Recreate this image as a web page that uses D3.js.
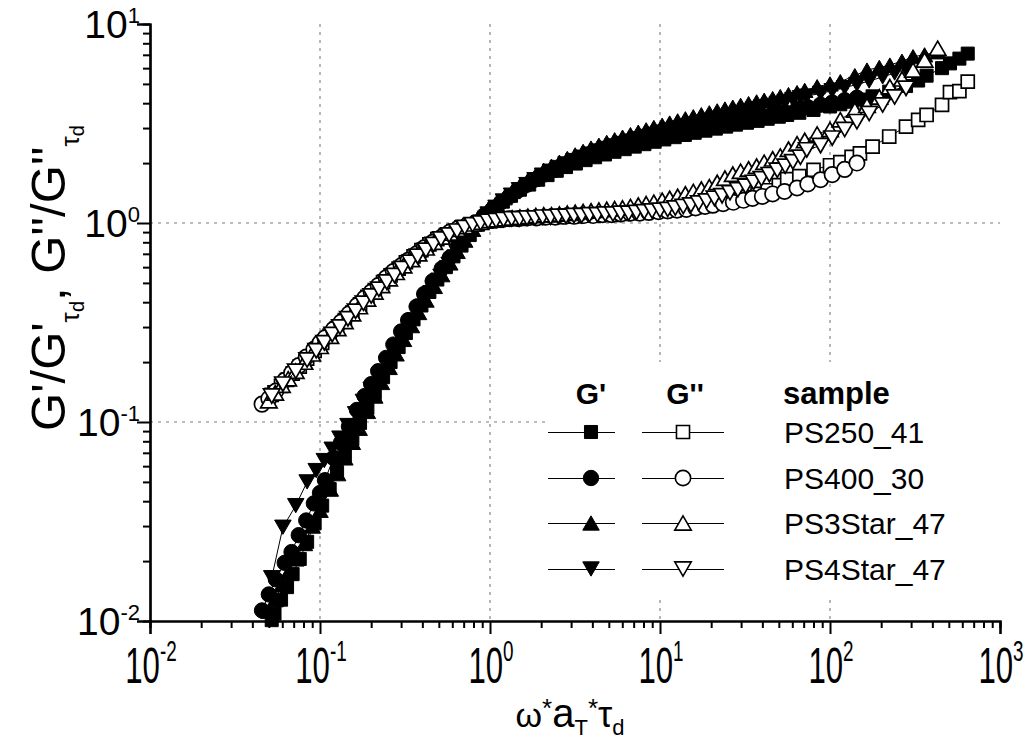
<!DOCTYPE html>
<html>
<head>
<meta charset="utf-8">
<script src="https://cdn.jsdelivr.net/npm/d3@7"></script>
<style>
  body { margin: 0; background: #fff; }
  svg { display: block; }
  text { font-family: "Liberation Sans", Arial, Helvetica, sans-serif; fill: #000; }
</style>
</head>
<body>
<svg id="chart" width="1028" height="740"></svg>
<script>
// ---- axis ticks ----
const xTickExponents = [-2, -1, 0, 1, 2, 3];
const yTickExponents = [-2, -1, 0, 1];

// ---- samples ----
const sampleNames = ["PS250_41", "PS400_30", "PS3Star_47", "PS4Star_47"];
const sampleShapes = ["square", "circle", "triangleUp", "triangleDown"];

// PS250_41
const omegaPS250 = [0.052, 0.054, 0.059, 0.064, 0.069, 0.076, 0.084, 0.093, 0.103, 0.114, 0.126, 0.14, 0.155, 0.172, 0.19, 0.21, 0.235, 0.26, 0.29, 0.32, 0.355, 0.395, 0.44, 0.49, 0.55, 0.61, 0.68, 0.76, 0.85, 0.95, 1.06, 1.19, 1.33, 1.5, 1.7, 1.92, 2.18, 2.47, 2.8, 3.2, 3.65, 4.15, 4.75, 5.4, 6.2, 7.1, 8.1, 9.3, 10.6, 12.2, 14, 16, 18.5, 21.3, 24.5, 28, 32.5, 37.5, 43, 50, 56, 66, 80, 100, 115, 134, 150, 178, 223, 280, 330, 370, 456, 508, 577, 646];
const gpPS250 = [0.0101, 0.0109, 0.0128, 0.0148, 0.0172, 0.0205, 0.025, 0.031, 0.038, 0.046, 0.056, 0.068, 0.082, 0.099, 0.118, 0.14, 0.168, 0.2, 0.238, 0.28, 0.328, 0.385, 0.45, 0.52, 0.6, 0.68, 0.77, 0.87, 0.98, 1.08, 1.18, 1.28, 1.37, 1.47, 1.56, 1.65, 1.74, 1.83, 1.91, 1.99, 2.07, 2.14, 2.21, 2.28, 2.35, 2.42, 2.49, 2.56, 2.63, 2.7, 2.77, 2.84, 2.91, 2.98, 3.05, 3.12, 3.19, 3.26, 3.34, 3.42, 3.49, 3.58, 3.7, 3.85, 3.95, 4.07, 4.17, 4.33, 4.57, 4.88, 5.2, 5.5, 6.0, 6.34, 6.7, 7.1];
const gppPS250 = [0.137, 0.141, 0.152, 0.163, 0.175, 0.19, 0.208, 0.228, 0.25, 0.272, 0.296, 0.325, 0.355, 0.39, 0.425, 0.46, 0.505, 0.545, 0.59, 0.635, 0.68, 0.73, 0.78, 0.83, 0.87, 0.91, 0.95, 0.98, 1.0, 1.02, 1.03, 1.04, 1.05, 1.05, 1.06, 1.06, 1.07, 1.07, 1.08, 1.08, 1.09, 1.09, 1.1, 1.1, 1.11, 1.12, 1.13, 1.14, 1.15, 1.16, 1.18, 1.2, 1.22, 1.25, 1.28, 1.31, 1.35, 1.4, 1.46, 1.55, 1.66, 1.72, 1.85, 1.95, 2.02, 2.15, 2.24, 2.42, 2.72, 3.05, 3.3, 3.49, 3.92, 4.55, 4.6, 5.13];

// PS400_30
const omegaPS400 = [0.0456, 0.05, 0.055, 0.062, 0.068, 0.075, 0.083, 0.092, 0.1, 0.107, 0.12, 0.133, 0.148, 0.165, 0.183, 0.2, 0.22, 0.245, 0.27, 0.3, 0.33, 0.37, 0.41, 0.46, 0.52, 0.58, 0.65, 0.73, 0.82, 0.92, 1.03, 1.16, 1.3, 1.47, 1.66, 1.88, 2.13, 2.42, 2.75, 3.13, 3.56, 4.05, 4.6, 5.2, 5.9, 6.7, 7.6, 8.6, 9.8, 11.1, 12.6, 14.3, 16.2, 18.4, 20.5, 23.5, 27, 31, 35, 40, 46, 54, 64, 74, 88, 103, 122, 144];
const gpPS400 = [0.0113, 0.0136, 0.0162, 0.0196, 0.0222, 0.027, 0.032, 0.039, 0.044, 0.051, 0.066, 0.079, 0.095, 0.115, 0.135, 0.155, 0.18, 0.21, 0.245, 0.285, 0.325, 0.38, 0.44, 0.51, 0.59, 0.67, 0.77, 0.88, 0.99, 1.09, 1.17, 1.27, 1.36, 1.46, 1.56, 1.66, 1.76, 1.85, 1.94, 2.03, 2.11, 2.19, 2.27, 2.34, 2.41, 2.48, 2.55, 2.61, 2.67, 2.73, 2.8, 2.87, 2.94, 3.0, 3.06, 3.14, 3.22, 3.3, 3.38, 3.46, 3.54, 3.63, 3.73, 3.82, 3.93, 4.03, 4.14, 4.26];
const gppPS400 = [0.123, 0.131, 0.143, 0.162, 0.176, 0.192, 0.212, 0.232, 0.25, 0.265, 0.292, 0.318, 0.35, 0.385, 0.42, 0.45, 0.485, 0.53, 0.57, 0.61, 0.65, 0.7, 0.75, 0.8, 0.85, 0.9, 0.94, 0.97, 1.0, 1.02, 1.03, 1.04, 1.05, 1.05, 1.06, 1.06, 1.07, 1.07, 1.08, 1.08, 1.09, 1.09, 1.1, 1.1, 1.11, 1.12, 1.12, 1.13, 1.14, 1.15, 1.16, 1.17, 1.19, 1.21, 1.23, 1.25, 1.27, 1.3, 1.33, 1.36, 1.4, 1.44, 1.5, 1.57, 1.65, 1.75, 1.86, 2.0];

// PS3Star_47
const omegaPS3Star = [0.05, 0.0545, 0.0597, 0.065, 0.072, 0.081, 0.09, 0.1, 0.115, 0.127, 0.14, 0.155, 0.17, 0.19, 0.21, 0.23, 0.255, 0.28, 0.31, 0.345, 0.38, 0.42, 0.47, 0.52, 0.58, 0.64, 0.71, 0.79, 0.88, 0.98, 1.09, 1.21, 1.35, 1.5, 1.67, 1.86, 2.07, 2.3, 2.56, 2.85, 3.17, 3.53, 3.93, 4.37, 4.86, 5.41, 6.02, 6.7, 7.45, 8.29, 9.2, 10.3, 11.4, 12.7, 14.1, 15.7, 17.5, 19.5, 21.7, 24.1, 26.8, 29.8, 33.2, 37, 41, 46, 51, 57, 64, 71, 84, 100, 115, 140, 165, 195, 225, 265, 308, 360, 430];
const gpPS3Star = [0.0112, 0.0128, 0.0152, 0.0175, 0.0205, 0.0245, 0.03, 0.036, 0.046, 0.055, 0.066, 0.079, 0.093, 0.113, 0.135, 0.158, 0.188, 0.22, 0.26, 0.305, 0.355, 0.41, 0.48, 0.55, 0.63, 0.72, 0.82, 0.93, 1.04, 1.14, 1.24, 1.34, 1.44, 1.54, 1.64, 1.74, 1.84, 1.93, 2.02, 2.11, 2.2, 2.29, 2.38, 2.46, 2.54, 2.62, 2.7, 2.78, 2.86, 2.94, 3.02, 3.1, 3.18, 3.26, 3.34, 3.42, 3.5, 3.58, 3.66, 3.74, 3.82, 3.9, 3.98, 4.06, 4.14, 4.22, 4.32, 4.42, 4.52, 4.64, 4.84, 5.0, 5.13, 5.5, 5.87, 6.05, 6.22, 6.5, 6.85, 7.0, 7.25];
const gppPS3Star = [0.128, 0.14, 0.153, 0.165, 0.18, 0.2, 0.22, 0.24, 0.27, 0.295, 0.32, 0.35, 0.38, 0.415, 0.45, 0.485, 0.525, 0.565, 0.61, 0.655, 0.7, 0.75, 0.8, 0.85, 0.89, 0.93, 0.96, 0.99, 1.01, 1.03, 1.04, 1.05, 1.06, 1.07, 1.08, 1.09, 1.1, 1.1, 1.11, 1.12, 1.13, 1.14, 1.15, 1.16, 1.17, 1.18, 1.19, 1.21, 1.23, 1.25, 1.27, 1.3, 1.33, 1.36, 1.4, 1.44, 1.48, 1.52, 1.6, 1.68, 1.76, 1.82, 1.87, 1.93, 2.02, 2.1, 2.17, 2.35, 2.5, 2.6, 2.8, 2.95, 3.3, 3.7, 3.9, 4.3, 4.84, 5.3, 5.87, 6.6, 7.55];

// PS4Star_47
const omegaPS4Star = [0.052, 0.0605, 0.072, 0.084, 0.095, 0.106, 0.118, 0.131, 0.146, 0.162, 0.18, 0.2, 0.222, 0.247, 0.274, 0.305, 0.34, 0.375, 0.42, 0.465, 0.515, 0.575, 0.64, 0.71, 0.79, 0.88, 0.975, 1.085, 1.2, 1.34, 1.49, 1.65, 1.84, 2.04, 2.27, 2.52, 2.8, 3.12, 3.46, 3.85, 4.28, 4.76, 5.29, 5.88, 6.54, 7.27, 8.08, 8.98, 10, 11.1, 12.3, 13.7, 15.2, 16.9, 18.8, 20.9, 23.2, 25.8, 28.7, 31.9, 35.5, 39.5, 44, 49, 54.5, 60.5, 67, 73, 88, 103, 122, 144, 170, 204, 240, 280];
const gpPS4Star = [0.0165, 0.0296, 0.038, 0.05, 0.057, 0.064, 0.073, 0.083, 0.096, 0.11, 0.127, 0.146, 0.17, 0.197, 0.228, 0.265, 0.31, 0.355, 0.415, 0.475, 0.54, 0.62, 0.71, 0.81, 0.91, 1.01, 1.11, 1.2, 1.29, 1.38, 1.47, 1.56, 1.65, 1.74, 1.82, 1.9, 1.98, 2.06, 2.14, 2.22, 2.3, 2.37, 2.44, 2.51, 2.58, 2.65, 2.72, 2.79, 2.86, 2.93, 3.0, 3.07, 3.14, 3.21, 3.28, 3.35, 3.42, 3.5, 3.58, 3.66, 3.74, 3.82, 3.9, 3.99, 4.08, 4.17, 4.26, 4.34, 4.48, 4.62, 4.79, 4.97, 5.17, 5.42, 5.67, 5.92];
const gppPS4Star = [0.135, 0.155, 0.18, 0.205, 0.228, 0.25, 0.275, 0.3, 0.33, 0.36, 0.395, 0.43, 0.465, 0.505, 0.545, 0.59, 0.635, 0.68, 0.73, 0.78, 0.83, 0.87, 0.91, 0.95, 0.98, 1.0, 1.02, 1.03, 1.04, 1.05, 1.05, 1.06, 1.06, 1.07, 1.07, 1.08, 1.08, 1.09, 1.09, 1.1, 1.1, 1.11, 1.11, 1.12, 1.12, 1.13, 1.14, 1.15, 1.16, 1.17, 1.19, 1.21, 1.23, 1.26, 1.29, 1.33, 1.37, 1.42, 1.47, 1.53, 1.6, 1.67, 1.75, 1.84, 1.93, 2.03, 2.14, 2.33, 2.45, 2.67, 2.95, 3.23, 3.55, 3.92, 4.3, 4.75];

const sampleOmega = [omegaPS250, omegaPS400, omegaPS3Star, omegaPS4Star];
const sampleGp = [gpPS250, gpPS400, gpPS3Star, gpPS4Star];
const sampleGpp = [gppPS250, gppPS400, gppPS3Star, gppPS4Star];

// ---- layout ----
const svg = d3.select("#chart");
const plot = { left: 150, right: 1000, top: 24, bottom: 621 };

const x = d3.scaleLog().domain([1e-2, 1e3]).range([plot.left, plot.right]);
const y = d3.scaleLog().domain([1e-2, 1e1]).range([plot.bottom, plot.top]);

const xMajor = xTickExponents.map(e => Math.pow(10, e));
const yMajor = yTickExponents.map(e => Math.pow(10, e));
const minorOf = majors => {
  const out = [];
  for (let i = 0; i < majors.length - 1; i++)
    for (let k = 2; k <= 9; k++) out.push(majors[i] * k);
  return out;
};

// grid lines at the major decades
const grid = svg.append("g").attr("class", "grid")
  .attr("stroke", "#a6a6a6").attr("stroke-width", 1.6).attr("stroke-dasharray", "3,5");
grid.selectAll("line.v").data(xMajor.slice(1, -1)).join("line")
  .attr("class", "v")
  .attr("x1", d => x(d)).attr("x2", d => x(d))
  .attr("y1", plot.top).attr("y2", plot.bottom);
grid.selectAll("line.h").data(yMajor.slice(1, -1)).join("line")
  .attr("class", "h")
  .attr("x1", plot.left).attr("x2", plot.right)
  .attr("y1", d => y(d)).attr("y2", d => y(d));

// ---- marker shapes ----
function shapePath(shape) {
  if (shape === "square") return d3.symbol(d3.symbolSquare, 170)();
  if (shape === "circle") return d3.symbol(d3.symbolCircle, 185)();
  const s = 16.5, h = s * Math.sqrt(3) / 2;
  if (shape === "triangleUp")
    return `M0,${-h / 2}L${s / 2},${h / 2}L${-s / 2},${h / 2}Z`;
  return `M0,${h / 2}L${s / 2},${-h / 2}L${-s / 2},${-h / 2}Z`;
}

const line = d3.line().x(d => x(d[0])).y(d => y(d[1]));
const dataLayer = svg.append("g").attr("class", "data");

function drawSeries(omega, values, shape, filled) {
  const pts = omega.map((w, i) => [w, values[i]]);
  const g = dataLayer.append("g");
  g.append("path").datum(pts)
    .attr("d", line).attr("fill", "none").attr("stroke", "#000").attr("stroke-width", 1);
  g.selectAll("path.m").data(pts).join("path")
    .attr("class", "m")
    .attr("d", shapePath(shape))
    .attr("transform", d => `translate(${x(d[0])},${y(d[1])})`)
    .attr("fill", filled ? "#000" : "#fff")
    .attr("stroke", "#000").attr("stroke-width", filled ? 1 : 1.7);
}

// storage modulus (filled), then loss modulus (open)
sampleNames.forEach((n, i) => drawSeries(sampleOmega[i], sampleGp[i], sampleShapes[i], true));
sampleNames.forEach((n, i) => drawSeries(sampleOmega[i], sampleGpp[i], sampleShapes[i], false));

// ---- legend ----
const legend = svg.append("g").attr("class", "legend");
legend.append("rect").attr("x", 545).attr("y", 362).attr("width", 455).attr("height", 236).attr("fill", "#fff");
legend.append("text").attr("x", 591).attr("y", 404).attr("text-anchor", "middle")
  .attr("font-size", 30).attr("font-weight", "bold").text("G'");
legend.append("text").attr("x", 685).attr("y", 404).attr("text-anchor", "middle")
  .attr("font-size", 30).attr("font-weight", "bold").text("G''");
legend.append("text").attr("x", 783).attr("y", 404)
  .attr("font-size", 31).attr("font-weight", "bold").text("sample");
const rowY = [432, 478, 523, 569];
sampleNames.forEach((n, i) => {
  const ry = rowY[i];
  [[548, 615, 591, true], [642, 724, 683, false]].forEach(([a, b, c, filled]) => {
    legend.append("line").attr("x1", a).attr("x2", b).attr("y1", ry + 0.5).attr("y2", ry + 0.5)
      .attr("stroke", "#000").attr("stroke-width", 1);
    legend.append("path").attr("d", shapePath(sampleShapes[i]))
      .attr("transform", `translate(${c},${ry})`)
      .attr("fill", filled ? "#000" : "#fff").attr("stroke", "#000")
      .attr("stroke-width", filled ? 1 : 1.6);
  });
  legend.append("text").attr("x", 784).attr("y", ry + 11).attr("font-size", 30).text(n);
});

// ---- axes ----
const axes = svg.append("g").attr("class", "axes");
const xAxisMajor = d3.axisBottom(x).tickValues(xMajor).tickSize(13).tickFormat("");
const xAxisMinor = d3.axisBottom(x).tickValues(minorOf(xMajor)).tickSize(7).tickFormat("");
const yAxisMajor = d3.axisLeft(y).tickValues(yMajor).tickSize(13).tickFormat("");
const yAxisMinor = d3.axisLeft(y).tickValues(minorOf(yMajor)).tickSize(7).tickFormat("");

[[xAxisMajor, `translate(0,${plot.bottom})`], [xAxisMinor, `translate(0,${plot.bottom})`],
 [yAxisMajor, `translate(${plot.left},0)`], [yAxisMinor, `translate(${plot.left},0)`]]
  .forEach(([ax, tr]) => {
    const g = axes.append("g").attr("transform", tr).call(ax);
    g.selectAll("path.domain").attr("stroke", "#000").attr("stroke-width", 2.2);
    g.selectAll(".tick line").attr("stroke", "#000").attr("stroke-width", 2);
  });

// tick labels: 10 with a superscript exponent
xTickExponents.forEach(e => {
  const t = axes.append("text")
    .attr("transform", `translate(${x(Math.pow(10, e)) + 1},683) scale(0.82,1.3)`)
    .attr("text-anchor", "middle").attr("font-size", 38);
  t.append("tspan").text("10");
  t.append("tspan").attr("font-size", 23).attr("dy", -17).text(e < 0 ? "-" + (-e) : e);
});
yTickExponents.forEach(e => {
  const t = axes.append("text").attr("x", 140).attr("y", y(Math.pow(10, e)) + 14)
    .attr("text-anchor", "end").attr("font-size", 39);
  t.append("tspan").text("10");
  t.append("tspan").attr("font-size", 22).attr("dy", -15).text(e < 0 ? "-" + (-e) : e);
});

// axis titles
const xt = axes.append("text").attr("x", 570).attr("y", 727).attr("text-anchor", "middle");
xt.append("tspan").attr("font-size", 34).text("ω");
xt.append("tspan").attr("font-size", 26).attr("dy", -10).text("*");
xt.append("tspan").attr("font-size", 40).attr("dy", 10).text("a");
xt.append("tspan").attr("font-size", 22).attr("dy", 8).text("T");
xt.append("tspan").attr("font-size", 26).attr("dy", -18).text("*");
xt.append("tspan").attr("font-size", 36).attr("dy", 10).text("τ");
xt.append("tspan").attr("font-size", 22).attr("dy", 8).text("d");

const yt = axes.append("text").attr("transform", "translate(65,278) rotate(-90)")
  .attr("text-anchor", "middle").attr("font-size", 49);
yt.append("tspan").text("G'/G'");
yt.append("tspan").attr("font-size", 26).attr("dy", 14).text("τ");
yt.append("tspan").attr("font-size", 20).attr("dy", 5).text("d");
yt.append("tspan").attr("dy", -19).text(", G''/G''");
yt.append("tspan").attr("font-size", 26).attr("dy", 14).text("τ");
yt.append("tspan").attr("font-size", 20).attr("dy", 5).text("d");
</script>
</body>
</html>
